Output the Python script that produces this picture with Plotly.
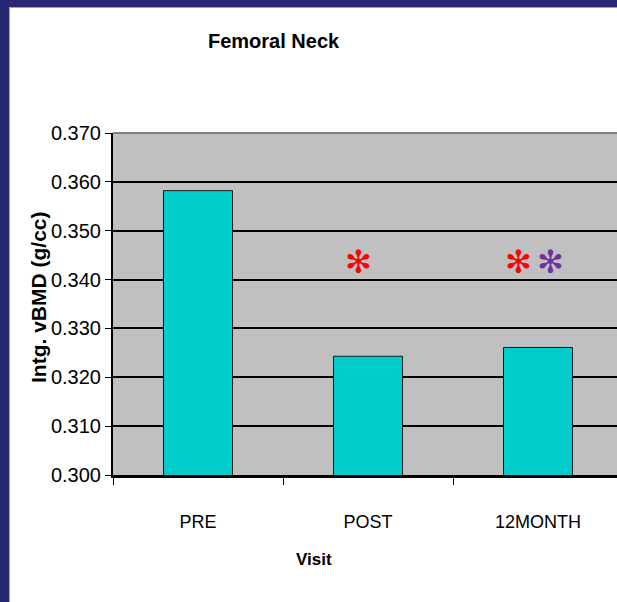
import plotly.graph_objects as go

# ---- data ----
categories = ["PRE", "POST", "12MONTH"]
vbmd = [0.3582, 0.3243, 0.3261]
y_ticks = [0.300, 0.310, 0.320, 0.330, 0.340, 0.350, 0.360, 0.370]
# significance markers: (category index position, y value, colour)
sig_x = [0.947, 1.888, 2.076]
sig_y = [0.3436, 0.3436, 0.3436]
sig_colors = ["#FF0000", "#FF0000", "#7030A0"]

# ---- layout geometry (pixels) ----
W, H = 617, 602
L, R, T, B = 113, 0, 133, 127
PW, PH = W - L - R, H - T - B


def px(xp):
    return (xp - L) / PW


def py(yp):
    return (H - B - yp) / PH


SANS = "Liberation Sans, Arial, sans-serif"
NAVY = "#272772"

fig = go.Figure()
fig.add_trace(go.Bar(
    x=categories, y=vbmd,
    marker=dict(color="#00CCCC", line=dict(color="#1a1a1a", width=1)),
    hoverinfo="skip",
))

annotations = []
for sx, sy, sc in zip(sig_x, sig_y, sig_colors):
    annotations.append(dict(x=sx, y=sy, xref="x", yref="y", text="✻", showarrow=False,
                            font=dict(size=32, color=sc, family="DejaVu Sans"),
                            xanchor="center", yanchor="middle"))

annotations += [
    dict(x=px(274), y=py(41), xref="paper", yref="paper", text="<b>Femoral Neck</b>",
         showarrow=False, xanchor="center", yanchor="middle",
         font=dict(size=20, family=SANS, color="black")),
    dict(x=px(314), y=py(559), xref="paper", yref="paper", text="<b>Visit</b>",
         showarrow=False, xanchor="center", yanchor="middle",
         font=dict(size=17, family=SANS, color="black")),
    dict(x=px(38), y=py(297), xref="paper", yref="paper", text="<b>Intg. vBMD (g/cc)</b>",
         showarrow=False, xanchor="center", yanchor="middle", textangle=-90,
         font=dict(size=21, family=SANS, color="black")),
]

shapes = [
    # navy frame (left and top)
    dict(type="rect", xref="paper", yref="paper", x0=px(0), x1=px(9), y0=py(H), y1=py(0),
         fillcolor=NAVY, line=dict(width=0), layer="above"),
    dict(type="rect", xref="paper", yref="paper", x0=px(0), x1=px(W), y0=py(7), y1=py(0),
         fillcolor=NAVY, line=dict(width=0), layer="above"),
    dict(type="line", xref="paper", yref="paper", x0=px(9.5), x1=px(9.5), y0=py(H), y1=py(7.5),
         line=dict(color="#a0a0b0", width=1)),
    dict(type="line", xref="paper", yref="paper", x0=px(9.5), x1=px(W), y0=py(7.5), y1=py(7.5),
         line=dict(color="#a0a0b0", width=1)),
    # grey top border of plot area
    dict(type="line", xref="paper", yref="paper", x0=0, x1=1, y0=1, y1=1,
         line=dict(color="#808080", width=2), layer="above"),
]

fig.update_layout(
    width=W, height=H, autosize=False,
    margin=dict(l=L, r=R, t=T, b=B, pad=0),
    paper_bgcolor="white", plot_bgcolor="#C0C0C0",
    showlegend=False, bargap=0.594,
    annotations=annotations, shapes=shapes,
    font=dict(family=SANS, color="black"),
)
fig.update_xaxes(
    type="category", range=[-0.5, -0.5 + PW / 170.0],
    tickson="boundaries", ticks="outside", ticklen=7, tickwidth=1, tickcolor="black",
    showline=True, linecolor="black", linewidth=3, showgrid=False,
    tickfont=dict(size=18, family=SANS, color="black"),
    ticklabelstandoff=28,
    fixedrange=True,
)
fig.update_yaxes(
    range=[0.300, 0.370], tickvals=y_ticks, tickformat=".3f",
    ticks="outside", ticklen=6, tickwidth=1, tickcolor="black",
    showline=True, linecolor="black", linewidth=2,
    showgrid=True, gridcolor="black", gridwidth=2, zeroline=False,
    tickfont=dict(size=20, family=SANS, color="black"),
    fixedrange=True,
)

fig.write_html(
    "out.html",
    config=dict(displayModeBar=False),
    post_script="document.body.style.margin='0';document.body.style.padding='0';"
                "document.documentElement.style.overflow='hidden';",
)
